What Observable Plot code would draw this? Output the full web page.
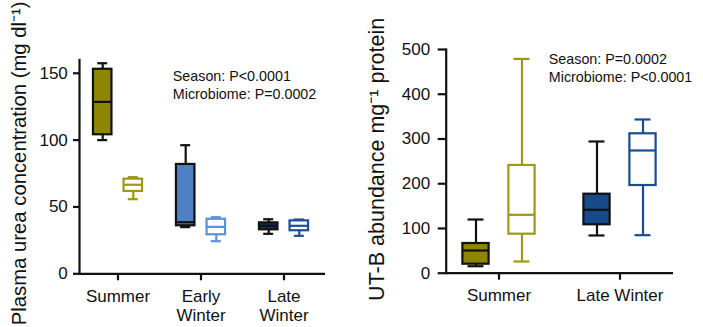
<!DOCTYPE html>
<html>
<head>
<meta charset="utf-8">
<script src="https://cdn.jsdelivr.net/npm/d3@7"></script>
<script src="https://cdn.jsdelivr.net/npm/@observablehq/plot@0.6"></script>
<style>
  html, body { margin: 0; padding: 0; background: #fff; overflow: hidden; }
  #wrap { display: flex; width: 703px; height: 327px; }
  svg { display: block; }
</style>
</head>
<body>
<div id="wrap"><div id="left"></div><div id="right"></div></div>
<script>
// ---------- Left panel: plasma urea ----------
const ureaSeasons = ["Summer", "Early Winter", "Late Winter"];
const ureaTicks = [0, 50, 100, 150];
const ureaBoxSeason = ["Summer", "Summer", "Early Winter", "Early Winter", "Late Winter", "Late Winter"];
const ureaBoxGroup = ["filled", "open", "filled", "open", "filled", "open"];
const ureaMin = [100, 55.8, 34.9, 24.4, 29.9, 28.4];
const ureaQ1  = [104, 61.6, 35.9, 29.2, 32.9, 32.2];
const ureaMed = [128.6, 66.6, 38.6, 35.1, 35.9, 35.9];
const ureaQ3  = [153, 70.8, 81.8, 40.8, 38.1, 39.6];
const ureaMax = [157.5, 72.3, 96.2, 42.3, 40.8, 40.6];
const ureaFill   = ["#8e8600", "#ffffff", "#4f80c3", "#ffffff", "#0f3262", "#ffffff"];
const ureaStroke = ["#111111", "#a09812", "#111111", "#5c90d8", "#111111", "#1c4f94"];
const ureaTitle = "Plasma urea concentration (mg dl⁻¹)";
const ureaNote = "Season: P<0.0001\nMicrobiome: P=0.0002";

// ---------- Right panel: UT-B abundance ----------
const utbSeasons = ["Summer", "Late Winter"];
const utbTicks = [0, 100, 200, 300, 400, 500];
const utbBoxSeason = ["Summer", "Summer", "Late Winter", "Late Winter"];
const utbBoxGroup = ["filled", "open", "filled", "open"];
const utbMin = [15.6, 26.2, 84.3, 85];
const utbQ1  = [20.1, 87.2, 108.2, 196];
const utbMed = [50.7, 130.5, 141.7, 274.3];
const utbQ3  = [66.4, 240.8, 176.6, 311.6];
const utbMax = [120, 479, 294.4, 343.6];
const utbFill   = ["#8e8600", "#ffffff", "#174a88", "#ffffff"];
const utbStroke = ["#111111", "#a09812", "#111111", "#1b4c8e"];
const utbTitle = "UT-B abundance mg⁻¹ protein";
const utbNote = "Season: P=0.0002\nMicrobiome: P<0.0001";

const FONT = "'Liberation Sans', Arial, Helvetica, sans-serif";

function rows(season, group, mn, q1, med, q3, mx, fill, stroke) {
  return season.map((s, i) => ({season: s, group: group[i], min: mn[i], q1: q1[i], med: med[i], q3: q3[i], max: mx[i], fill: fill[i], stroke: stroke[i]}));
}

function boxMarks(data, dx, boxInset, capInset) {
  return [
    Plot.ruleX(data, {x: "season", y1: "q3", y2: "max", stroke: "stroke", strokeWidth: 2.2, dx}),
    Plot.ruleX(data, {x: "season", y1: "min", y2: "q1", stroke: "stroke", strokeWidth: 2.2, dx}),
    Plot.tickY(data, {x: "season", y: "max", stroke: "stroke", strokeWidth: 2.2, dx, insetLeft: capInset, insetRight: capInset}),
    Plot.tickY(data, {x: "season", y: "min", stroke: "stroke", strokeWidth: 2.2, dx, insetLeft: capInset, insetRight: capInset}),
    Plot.barY(data, {x: "season", y1: "q1", y2: "q3", fill: "fill", stroke: "stroke", strokeWidth: 2.2, dx, insetLeft: boxInset, insetRight: boxInset}),
    Plot.tickY(data, {x: "season", y: "med", stroke: "stroke", strokeWidth: 2.2, dx, insetLeft: boxInset, insetRight: boxInset})
  ];
}

function panel(o) {
  const data = o.data;
  return Plot.plot({
    width: o.width, height: 327,
    marginLeft: o.ml, marginRight: o.mr, marginTop: o.mt, marginBottom: o.mb,
    style: {fontFamily: FONT, color: "#111", background: "#fff", overflow: "visible"},
    x: {type: "band", domain: o.seasons, range: o.xRange, padding: 0},
    y: {domain: o.yDomain},
    color: {type: "identity"},
    marks: [
      Plot.ruleY([0], {stroke: "#111", strokeWidth: 2.2}),
      Plot.frame({anchor: "left", stroke: "#111", strokeWidth: 2.2}),
      Plot.axisY(o.yTicks, {anchor: "left", tickSize: o.yTickSize, tickPadding: o.yTickPad, fontSize: 17, strokeWidth: 2.2, label: null}),
      Plot.axisX({anchor: "bottom", tickSize: 7, tickPadding: o.xTickPad, fontSize: 17, strokeWidth: 2.2, label: null, lineHeight: 1.08, tickFormat: o.xFormat}),
      ...boxMarks(data.filter(d => d.group === "filled"), -o.off, o.boxInset, o.capInset),
      ...boxMarks(data.filter(d => d.group === "open"), o.off, o.boxInset, o.capInset),
      Plot.text([o.title], {frameAnchor: "left", rotate: -90, textAnchor: "middle", lineAnchor: "bottom", dx: o.titleDx, dy: o.titleDy, fontSize: o.titleSize, fill: "#111"}),
      Plot.text([o.note], {frameAnchor: "top-left", textAnchor: "start", lineAnchor: "top", dx: o.noteDx, dy: o.noteDy, fontSize: 14.3, lineHeight: 1.24, fill: "#111"})
    ]
  });
}

const left = panel({
  data: rows(ureaBoxSeason, ureaBoxGroup, ureaMin, ureaQ1, ureaMed, ureaQ3, ureaMax, ureaFill, ureaStroke),
  seasons: ureaSeasons, yTicks: ureaTicks, yDomain: [0, 160],
  width: 350, ml: 79, mr: 25, mt: 59.4, mb: 53.7,
  xRange: [75.15, 325.65], off: 15.3, boxInset: 32.25, capInset: 36.5,
  yTickSize: 6, yTickPad: 5.7, xTickPad: 8.6,
  xFormat: d => d.replace(" ", "\n"),
  title: ureaTitle, titleSize: 20.3, titleDx: -54, titleDy: -3.5,
  note: ureaNote, noteDx: 93.3, noteDy: 8.4
});

const right = panel({
  data: rows(utbBoxSeason, utbBoxGroup, utbMin, utbQ1, utbMed, utbQ3, utbMax, utbFill, utbStroke),
  seasons: utbSeasons, yTicks: utbTicks, yDomain: [0, 500],
  width: 353, ml: 95.7, mr: 30, mt: 49, mb: 54.3,
  xRange: [86.9, 330.5], off: 23, boxInset: 47.4, capInset: 52.5,
  yTickSize: 8, yTickPad: 8, xTickPad: 8.2,
  xFormat: d => d,
  title: utbTitle, titleSize: 21.5, titleDx: -62.4, titleDy: -2,
  note: utbNote, noteDx: 102.6, noteDy: 1.8
});

document.getElementById("left").appendChild(left);
document.getElementById("right").appendChild(right);
</script>
</body>
</html>
